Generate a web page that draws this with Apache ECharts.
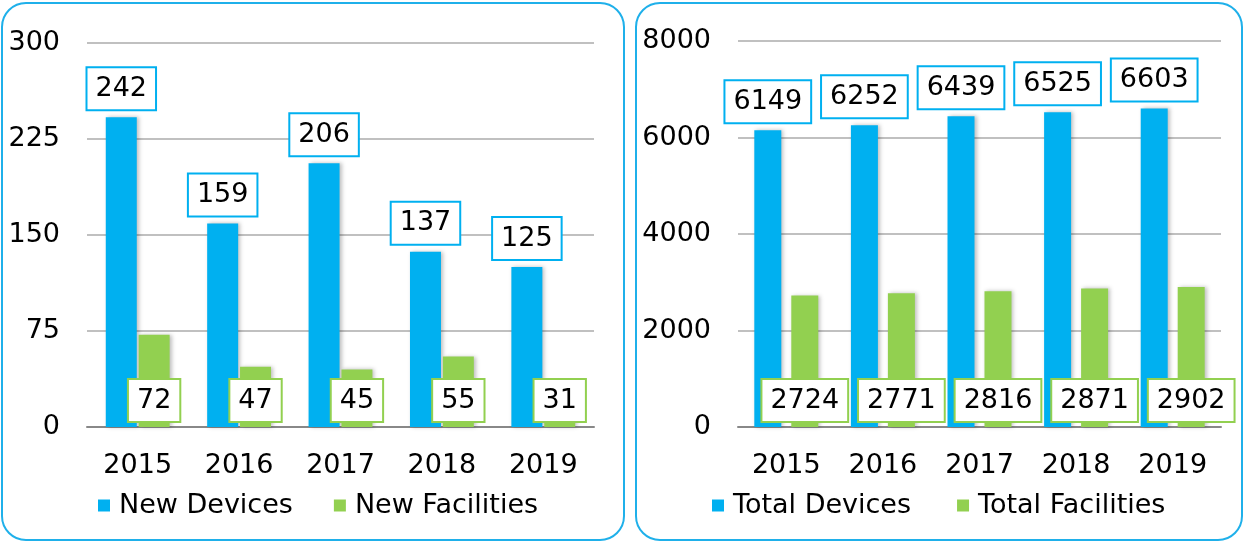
<!DOCTYPE html>
<html>
<head>
<meta charset="utf-8">
<script src="https://cdn.jsdelivr.net/npm/echarts@6/dist/echarts.min.js"></script>
<style>
html,body{margin:0;padding:0;background:#fff;}
#c{width:1244px;height:542px;}
</style>
</head>
<body>
<div id="c"></div>
<script>
const years = ['2015','2016','2017','2018','2019'];
const newDevices = [242, 159, 206, 137, 125];
const newFacilities = [72, 47, 45, 55, 31];
const totalDevices = [6149, 6252, 6439, 6525, 6603];
const totalFacilities = [2724, 2771, 2816, 2871, 2902];
const leftTicks = [0, 75, 150, 225, 300];
const rightTicks = [0, 2000, 4000, 6000, 8000];

const BLUE = '#00b0f0';
const GREEN = '#92d050';
const FONT = 'DejaVu Sans';
const FS = 27;

const chart = echarts.init(document.getElementById('c'), null, {renderer:'canvas'});

function lbl(color, pos, dist){
  return {
    show:true, position:pos, distance:dist,
    color:'#000', fontFamily:FONT, fontSize:FS, lineHeight:31,
    backgroundColor:'#fff', borderColor:color, borderWidth:2,
    padding:[5,8,5,8]
  };
}
function barSeries(name, data, color, xi, top, bw, gap){
  return {
    type:'bar', name:name, data:data, xAxisIndex:xi, yAxisIndex:xi,
    barWidth:bw, barGap:gap,
    itemStyle:{color:color, shadowColor:'rgba(0,0,0,0.25)', shadowBlur:4, shadowOffsetX:2, shadowOffsetY:0},
    label: top ? lbl(color,'top',8) : lbl(color,'insideBottom',6),
    emphasis:{disabled:true}, animation:false
  };
}
function xAx(gi){
  return {
    type:'category', data:years, gridIndex:gi,
    axisTick:{show:false},
    axisLine:{lineStyle:{color:'#888', width:2}},
    axisLabel:{color:'#000', fontFamily:FONT, fontSize:FS, margin:25}
  };
}
function yAx(gi, ticks){
  return {
    type:'value', gridIndex:gi, min:ticks[0], max:ticks[ticks.length-1],
    interval:ticks[1]-ticks[0],
    axisLine:{show:false}, axisTick:{show:false},
    splitLine:{lineStyle:{color:'#c0c0c0', width:2}},
    axisLabel:{color:'#000', fontFamily:FONT, fontSize:FS, margin:27, formatter:function(v){return String(v);}}
  };
}
function legend(left, names, gap){
  return {
    left:left, top:487, data:names, icon:'rect', itemWidth:12, itemHeight:12, itemGap:gap,
    textStyle:{color:'#000', fontFamily:FONT, fontSize:FS, padding:[0,0,0,4]},
    selectedMode:false
  };
}

chart.setOption({
  animation:false,
  graphic:[
    {type:'rect', shape:{x:2, y:3, width:622, height:537, r:24}, style:{fill:'none', stroke:'#1fb0ea', lineWidth:2}, silent:true},
    {type:'rect', shape:{x:636, y:3, width:606, height:537, r:24}, style:{fill:'none', stroke:'#1fb0ea', lineWidth:2}, silent:true}
  ],
  grid:[
    {left:87, right:1244-594, top:43, bottom:542-427},
    {left:738, right:1244-1221, top:41, bottom:542-427}
  ],
  legend:[
    legend(93, ['New Devices','New Facilities'], 41),
    legend(707, ['Total Devices','Total Facilities'], 46)
  ],
  xAxis:[xAx(0), xAx(1)],
  yAxis:[yAx(0, leftTicks), yAx(1, rightTicks)],
  series:[
    barSeries('New Devices', newDevices, BLUE, 0, true, 31, '6%'),
    barSeries('New Facilities', newFacilities, GREEN, 0, false, 31, '6%'),
    barSeries('Total Devices', totalDevices, BLUE, 1, true, 27, '37%'),
    barSeries('Total Facilities', totalFacilities, GREEN, 1, false, 27, '37%')
  ]
});
</script>
</body>
</html>
